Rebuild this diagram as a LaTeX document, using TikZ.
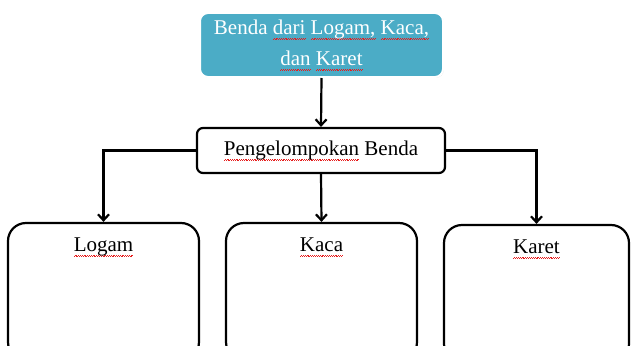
\documentclass[tikz,border=0pt]{standalone}
\usepackage{fontspec}
\setmainfont{Liberation Serif}
\usetikzlibrary{arrows.meta,shadows}
\definecolor{topfill}{RGB}{75,172,198}
\definecolor{spellred}{RGB}{230,30,30}
\newsavebox{\spellword}
\newcommand{\spellmark}[1]{\sbox{\spellword}{#1}\rlap{\hbox to \wd\spellword{\color{spellred}\xleaders\hbox{\rule[-5.2pt]{0.9pt}{0.7pt}\rule[-4.5pt]{0.9pt}{0.7pt}}\hfill}}\usebox{\spellword}}

\begin{document}
\begin{tikzpicture}[yscale=-1
,headbox/.style={draw=white,line width=2pt,fill=topfill,rounded corners=8pt,text=white,align=center,minimum width=243pt,minimum height=64pt,font=\fontsize{21}{31}\selectfont,drop shadow={shadow xshift=0.8pt,shadow yshift=-0.8pt,opacity=0.25}}
,groupbox/.style={draw=black,line width=2.2pt,rounded corners=6pt,fill=white,minimum width=248pt,minimum height=45pt,font=\fontsize{21}{24}\selectfont}
,itembox/.style={draw=black,line width=2.2pt,rounded corners=18pt,minimum height=137pt}
,itemtext/.style={below=12pt,font=\fontsize{21}{24}\selectfont}
,conn/.style={draw=black,line width=2.2pt,-{Straight Barb[length=6pt,width=11pt]}}
]
\useasboundingbox (0pt,0pt) rectangle (631pt,345pt);
\clip (0pt,0pt) rectangle (631pt,345pt);
\node (benda) at (321.5pt,45pt)[headbox]{Benda \spellmark{dari} \spellmark{Logam,} \spellmark{Kaca,}\\\spellmark{dan} \spellmark{Karet}};
\node (grup) at (321pt,150.5pt)[groupbox]{\spellmark{Pengelompokan} Benda};
\node (logam) at (103.5pt,291.5pt)[itembox,minimum width=191pt,label={[itemtext]north:\spellmark{Logam}}]{};
\node (kaca) at (321.5pt,291.5pt)[itembox,minimum width=191pt,label={[itemtext]north:\spellmark{Kaca}}]{};
\node (karet) at (536.5pt,293.5pt)[itembox,minimum width=185pt,label={[itemtext]north:\spellmark{Karet}}]{};
\draw[conn] (benda.south) -- (grup.north);
\draw[conn] (grup.west) -| (logam.north);
\draw[conn] (grup.south) -- (kaca.north);
\draw[conn] (grup.east) -| (karet.north);
\end{tikzpicture}
\end{document}
